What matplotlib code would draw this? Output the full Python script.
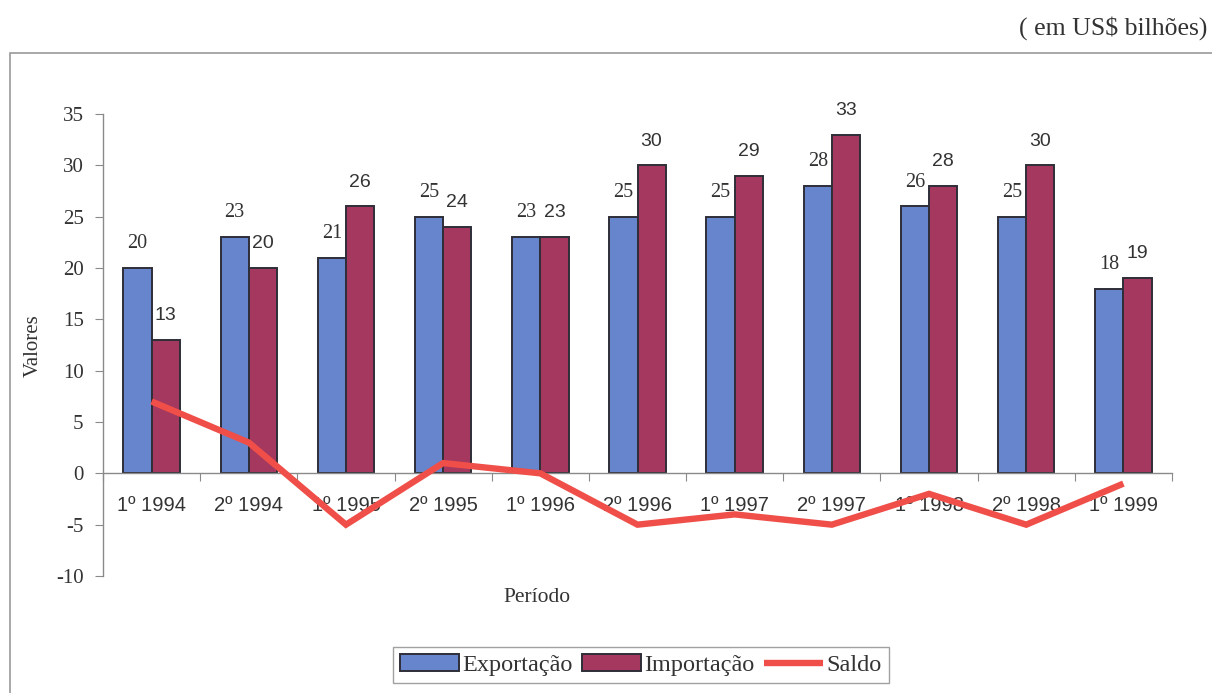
import matplotlib.pyplot as plt
import numpy as np
from matplotlib.patches import Rectangle

# semestral trade balance, US$ billions
periodos = ['1º 1994', '2º 1994', '1º 1995', '2º 1995', '1º 1996', '2º 1996',
            '1º 1997', '2º 1997', '1º 1998', '2º 1998', '1º 1999']
exportacao = [20, 23, 21, 25, 23, 25, 25, 28, 26, 25, 18]
importacao = [13, 20, 26, 24, 23, 30, 29, 33, 28, 30, 19]
saldo = [7, 3, -5, 1, 0, -5, -4, -5, -2, -5, -1]
yticks = [-10, -5, 0, 5, 10, 15, 20, 25, 30, 35]

serif = 'Liberation Serif'
sans = 'Liberation Sans'
txt = '#333333'
cor_exp = '#6685cc'
cor_imp = '#a5385e'
cor_saldo = '#ef4f48'
cinza = '#8a8a8a'

fig = plt.figure(figsize=(12.12, 6.93), dpi=100)
ax = fig.add_axes([103 / 1212, 1 - 576 / 693, (1172 - 103) / 1212, (576 - 114) / 693])

x = np.arange(len(periodos))
w = 0.29
b1 = ax.bar(x - w / 2, exportacao, w, color=cor_exp, edgecolor='#2e2e38',
            linewidth=1.4, label='Exportação', zorder=2)
b2 = ax.bar(x + w / 2, importacao, w, color=cor_imp, edgecolor='#2e2e38',
            linewidth=1.4, label='Importação', zorder=2)
ln, = ax.plot(x, saldo, color=cor_saldo, linewidth=4.6, label='Saldo',
              solid_capstyle='butt', solid_joinstyle='miter', zorder=5, clip_on=False)

# value labels: exports in serif, imports in sans
for xi, v in zip(x, exportacao):
    ax.annotate(str(v), (xi - w / 2, v), xytext=(0, 17.5), textcoords='offset points',
                ha='center', va='center', family=serif, fontsize=14.5, color=txt)
for xi, v in zip(x, importacao):
    ax.annotate(str(v), (xi + w / 2, v), xytext=(0, 17.5), textcoords='offset points',
                ha='center', va='center', family=sans, fontsize=14, color=txt)

ax.set_xlim(-0.5, len(periodos) - 0.5)
ax.set_ylim(-10, 35)
ax.set_yticks(yticks)
ax.set_yticklabels([str(t) for t in yticks])

# boundary ticks on the axis, category names centred between them
ax.set_xticks(np.arange(len(periodos) + 1) - 0.5)
ax.set_xticklabels([])
ax.set_xticks(x, minor=True)
ax.set_xticklabels(periodos, minor=True)
ax.tick_params(axis='x', which='major', length=6, direction='out', color=cinza)
ax.tick_params(axis='x', which='minor', length=0, pad=16, labelsize=14.5,
               labelcolor=txt, labelfontfamily=sans)
ax.tick_params(axis='y', length=6, direction='out', color=cinza, pad=8,
               labelsize=15, labelcolor=txt, labelfontfamily=serif)

for s in ['top', 'right']:
    ax.spines[s].set_visible(False)
ax.spines['bottom'].set_position(('data', 0))
ax.spines['left'].set_bounds(-10, 35)
for s in ['bottom', 'left']:
    ax.spines[s].set_color(cinza)
    ax.spines[s].set_linewidth(1.0)
ax.patch.set_alpha(0)

fig.text(1207 / 1212, 1 - 28 / 693, '( em US$ bilhões)', ha='right', va='center',
         family=serif, fontsize=18.5, color=txt)
fig.text(33 / 1212, 1 - 346 / 693, 'Valores', rotation=90, ha='center', va='center',
         family=serif, fontsize=15, color=txt)
fig.text(537 / 1212, 1 - 597 / 693, 'Período', ha='center', va='center',
         family=serif, fontsize=15.5, color=txt)

# outer chart frame, running off the right and bottom edges
fig.add_artist(Rectangle((10 / 1212, -0.1), 1.2, 1 - 53 / 693 + 0.1, fill=False,
                         edgecolor='#9a9a9a', linewidth=1.2, transform=fig.transFigure))

leg = fig.legend(handles=[b1, b2, ln], loc='center', bbox_to_anchor=(641 / 1212, 1 - 665 / 693),
                 ncol=3, frameon=True, fancybox=False, prop={'family': serif, 'size': 17.5},
                 handlelength=2.4, handletextpad=0.15, columnspacing=0.4,
                 borderpad=0.3, borderaxespad=0)
leg.get_frame().set_edgecolor('#8a8a8a')
leg.get_frame().set_linewidth(1.0)
for t in leg.get_texts():
    t.set_color(txt)

fig.savefig('out.png', dpi=100)
